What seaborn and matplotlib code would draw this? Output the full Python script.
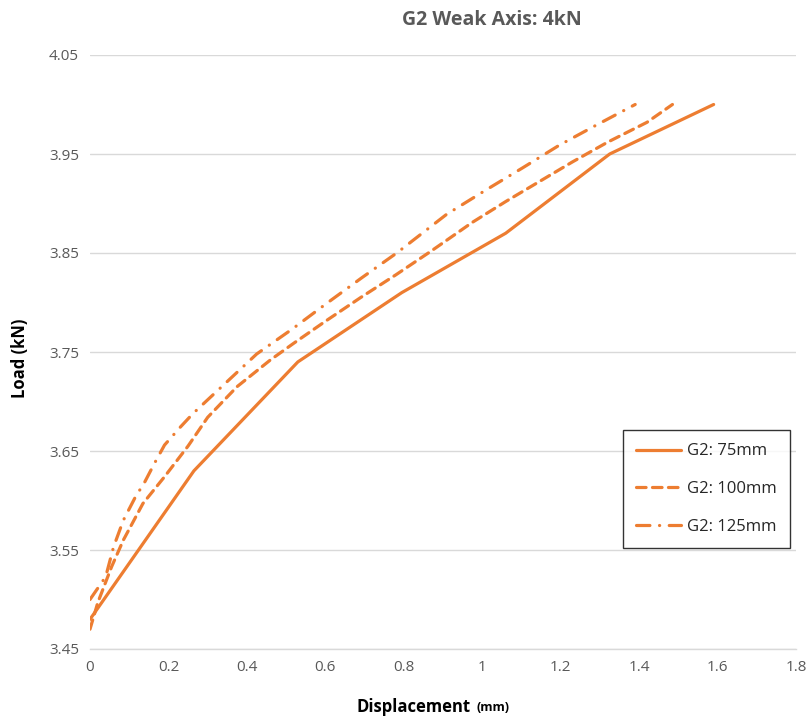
import matplotlib
matplotlib.use("Agg")
import matplotlib.pyplot as plt
import seaborn as sns
import pandas as pd

# Data
x_75 = [0.0, 0.265, 0.53, 0.795, 1.06, 1.325, 1.59]
y_75 = [3.48, 3.63, 3.74, 3.81, 3.87, 3.95, 4.00]

x_100 = [0.0, 0.02, 0.055, 0.085, 0.135, 0.19, 0.25, 0.30, 0.375, 0.46, 0.52, 0.60, 0.69, 0.78, 0.87,
         0.975, 1.06, 1.145, 1.23, 1.32, 1.42, 1.485]
y_100 = [3.47, 3.497, 3.533, 3.56, 3.597, 3.624, 3.655, 3.684, 3.715, 3.742, 3.759, 3.781, 3.805, 3.828, 3.852,
         3.881, 3.902, 3.922, 3.942, 3.962, 3.982, 4.00]

x_125 = [0.0, 0.04, 0.06, 0.085, 0.115, 0.14, 0.165, 0.19, 0.23, 0.263, 0.344, 0.425, 0.515, 0.603, 0.693,
         0.782, 0.909, 1.011, 1.103, 1.197, 1.29, 1.39]
y_125 = [3.50, 3.523, 3.553, 3.58, 3.603, 3.619, 3.638, 3.656, 3.674, 3.688, 3.718, 3.748, 3.773, 3.799, 3.825,
         3.85, 3.889, 3.914, 3.936, 3.959, 3.979, 4.00]

labels = ["G2: 75mm", "G2: 100mm", "G2: 125mm"]
x_ticks = [0, 0.2, 0.4, 0.6, 0.8, 1, 1.2, 1.4, 1.6, 1.8]
x_ticklabels = ["0", "0.2", "0.4", "0.6", "0.8", "1", "1.2", "1.4", "1.6", "1.8"]
y_ticks = [3.45, 3.55, 3.65, 3.75, 3.85, 3.95, 4.05]
y_ticklabels = ["3.45", "3.55", "3.65", "3.75", "3.85", "3.95", "4.05"]

df = pd.concat([
    pd.DataFrame({"x": x_75, "y": y_75, "series": labels[0]}),
    pd.DataFrame({"x": x_100, "y": y_100, "series": labels[1]}),
    pd.DataFrame({"x": x_125, "y": y_125, "series": labels[2]}),
], ignore_index=True)

sns.set_theme(style="white")
plt.rcParams['font.family'] = ['Open Sans', 'DejaVu Sans']

orange = "#ED7D31"
grey_txt = "#595959"

fig = plt.figure(figsize=(8.1, 7.18), dpi=100)
ax = fig.add_axes([90/810, 69/718, 706/810, 594/718])

dash_map = {labels[0]: "", labels[1]: (3.0, 2.0), labels[2]: (4.2, 3.0, 0.05, 3.0)}
sns.lineplot(data=df, x="x", y="y", hue="series", style="series",
             palette=[orange]*3, dashes=dash_map, sort=False, estimator=None,
             linewidth=2.3, ax=ax, legend=True)
for ln in ax.get_lines():
    ln.set_dash_capstyle("round")
    ln.set_solid_capstyle("round")

ax.set_xlim(0, 1.8)
ax.set_ylim(3.45, 4.05)
ax.set_xticks(x_ticks)
ax.set_xticklabels(x_ticklabels)
ax.set_yticks(y_ticks)
ax.set_yticklabels(y_ticklabels)
ax.tick_params(axis="both", length=0, labelsize=11, labelcolor=grey_txt, pad=8)
ax.grid(axis="y", color="#D9D9D9", linewidth=1)
ax.grid(axis="x", visible=False)
for s in ["top", "right", "left"]:
    ax.spines[s].set_visible(False)
ax.spines["bottom"].set_color("#D9D9D9")
ax.spines["bottom"].set_linewidth(1)

ax.set_xlabel("Displacement", fontsize=12, fontweight="bold", color="black")
ax.xaxis.set_label_coords(0.459, -0.082)
ax.set_ylabel("Load (kN)", fontsize=12, fontweight="bold", color="black")
ax.yaxis.set_label_coords(-0.087, 0.49)
ax.annotate("(mm)", xy=(1, 0), xycoords=ax.xaxis.label, xytext=(4, 1),
            textcoords="offset points", fontsize=9, fontweight="bold",
            color="black", ha="left", va="bottom")

fig.text(492/810, 1 - 20/718, "G2 Weak Axis: 4kN", ha="center", va="center",
         fontsize=14, fontweight="bold", color=grey_txt)

handles, lbls = ax.get_legend_handles_labels()
for h in handles:
    h.set_linewidth(2.3)
    h.set_dash_capstyle("round")
leg = ax.legend(handles, lbls, loc="lower right", fontsize=12, frameon=True,
                fancybox=False, edgecolor="black", handlelength=2.7,
                handletextpad=0.35, labelspacing=1.3, borderpad=0.8, borderaxespad=0)
leg.set_bbox_to_anchor((790/810, 1 - 548/718), transform=fig.transFigure)
leg.get_frame().set_linewidth(1)

fig.savefig("out.png", dpi=100)
